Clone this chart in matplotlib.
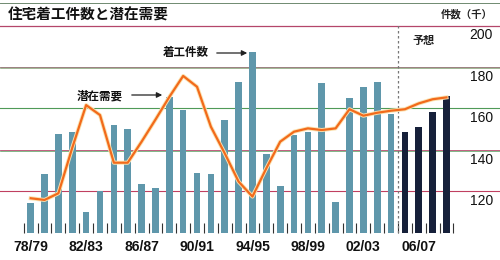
import matplotlib
matplotlib.use("Agg")
import matplotlib.pyplot as plt
import matplotlib.patheffects as pe
import numpy as np

plt.rcParams['font.family'] = ['Noto Sans CJK JP', 'DejaVu Sans']

years = list(range(1978, 2009))
starts = [114.3, 128.2, 147.4, 148.4, 110.0, 120.2, 151.9, 150.0, 123.6, 121.5,
          165.5, 159.1, 129.0, 128.2, 154.3, 172.8, 187.2, 138.0, 122.6, 147.1,
          148.7, 172.3, 115.0, 164.8, 170.0, 172.6, 157.2, 148.4, 150.8, 158.0, 165.9]
potential = [116.7, 115.9, 119.1, 141.0, 161.5, 156.7, 133.8, 133.8, 143.9, 154.5,
             165.4, 175.5, 170.3, 151.1, 138.3, 124.7, 117.5, 131.1, 143.9, 148.7,
             150.3, 149.5, 150.3, 159.5, 156.4, 157.8, 158.8, 159.5, 162.3, 164.3, 165.2]
forecast_from = 2005
xlabels = ["78/79", "82/83", "86/87", "90/91", "94/95", "98/99", "02/03", "06/07"]
xlabel_years = [1978, 1982, 1986, 1990, 1994, 1998, 2002, 2006]
ytick_vals = [200, 180, 160, 140, 120]
title = "住宅着工件数と潜在需要"
unit = "件数（千）"

W, H = 500, 260
fig = plt.figure(figsize=(5, 2.6), dpi=100)
fig.patch.set_facecolor('white')

sp = 13.86
x0 = 30.7
ax = fig.add_axes([0, (H - 233) / H, 1, (233 - 25) / H])
ax.set_xlim(-x0 / sp, (W - x0) / sp)
ax.set_ylim(100, 200)
for s in ax.spines.values():
    s.set_visible(False)
ax.set_facecolor('none')

idx = np.arange(len(years))

# gridlines
red = '#b4466a'
green = '#4f9a58'
ax.axhline(199.7, color=red, lw=0.9, zorder=1, clip_on=False)
ax.axhline(180, color='#8a6a6a', lw=0.6, zorder=1)
ax.axhline(179.55, color='#7a9a6a', lw=0.5, zorder=1)
ax.axhline(160, color=green, lw=0.8, zorder=1)
ax.axhline(140, color=red, lw=0.6, zorder=1)
ax.axhline(139.55, color=green, lw=0.5, zorder=1)
ax.axhline(120, color='#c04060', lw=0.8, zorder=1)

# bars
colors = ['#5f97ab' if y < forecast_from else '#16203a' for y in years]
ax.bar(idx, [v - 100 for v in starts], bottom=100, width=0.48, color=colors, zorder=2)

# forecast divider
fi = years.index(forecast_from) - 0.5
ax.plot([fi, fi], [100, 200], color='#777777', lw=0.9, ls=(0, (2, 2)), zorder=3)

# potential demand line
ax.plot(idx, potential, color='#f26a1b', lw=1.6, zorder=4,
        solid_joinstyle='round',
        path_effects=[pe.Stroke(linewidth=2.9, foreground='#fbe2b0'), pe.Normal()])

# ticks
ax.set_xticks([years.index(y) for y in xlabel_years])
ax.set_xticklabels(xlabels, family=['Liberation Sans Narrow', 'Liberation Sans', 'DejaVu Sans'],
                   fontsize=10, fontweight='bold', color='#111111')
ax.set_xticks(np.arange(-0.5, len(years) + 0.5, 1), minor=True)
ax.tick_params(axis='x', which='major', length=0, pad=5)
ax.tick_params(axis='x', which='minor', direction='in', length=7, width=0.8, color='#333333')
ax.set_yticks([])

for v in ytick_vals:
    ax.annotate(str(v), xy=(1, v), xycoords=('axes fraction', 'data'),
                xytext=(-7, -3), textcoords='offset pixels', ha='right', va='top',
                family=['Liberation Sans', 'DejaVu Sans'], fontsize=10, color='#111111')

# title and top line
fig.add_artist(plt.Line2D([0, 1], [1 - 2.7 / H, 1 - 2.7 / H], color='#6f8a70', lw=0.7))
fig.text(8 / W, 1 - 15 / H, title, fontsize=10.5, fontweight='bold', va='center', ha='left', color='#111111')
fig.text(493 / W, 1 - 14 / H, unit, fontsize=7.5, fontweight='bold', va='center', ha='right', color='#222222')
fig.text(424 / W, 1 - 40.5 / H, "予想", fontsize=8, fontweight='bold', va='center', ha='center', color='#222222')

# annotations
fig.text(186 / W, 1 - 53 / H, "着工件数", fontsize=8.3, fontweight='bold', va='center', ha='center', color='#111111')
ax.annotate("", xy=(250 / W, 1 - 53 / H), xytext=(214 / W, 1 - 53 / H),
            xycoords='figure fraction', textcoords='figure fraction',
            arrowprops=dict(arrowstyle='-|>', color='#222222', lw=0.9, mutation_scale=8))
fig.text(100 / W, 1 - 96 / H, "潜在需要", fontsize=8.3, fontweight='bold', va='center', ha='center', color='#111111')
ax.annotate("", xy=(165 / W, 1 - 95 / H), xytext=(129 / W, 1 - 95 / H),
            xycoords='figure fraction', textcoords='figure fraction',
            arrowprops=dict(arrowstyle='-|>', color='#222222', lw=0.9, mutation_scale=8))

fig.savefig('out.png', dpi=100, facecolor='white')
